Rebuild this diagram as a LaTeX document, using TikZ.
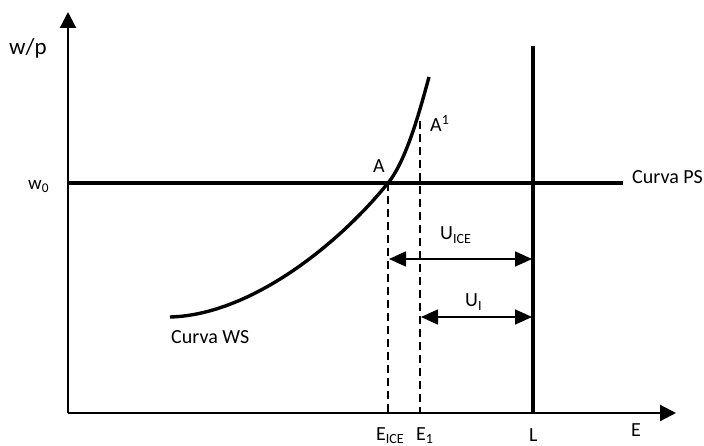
\documentclass[tikz,border=0pt]{standalone}
\usepackage{fontspec}
\setmainfont{Carlito}
\usetikzlibrary{arrows.meta}
\tikzset{
  axisline/.style={line width=2.2pt,-{Triangle[length=16pt,width=16pt]}},
  thickline/.style={line width=3.4pt},
  dashline/.style={line width=1.8pt,dash pattern=on 8pt off 5pt},
  darrow/.style={line width=1.7pt,{Triangle[length=17pt,width=15pt]}-{Triangle[length=17pt,width=15pt]}},
  lbl/.style={inner sep=0pt,anchor=base west,font=\fontsize{20}{24}\selectfont},
}
\begin{document}
\begin{tikzpicture}[x=1pt,y=-1pt]
\useasboundingbox (0,0) rectangle (704,446);
% coordinates
\coordinate (O) at (68,413);
\coordinate (ytop) at (68,12);
\coordinate (xend) at (676,413);
\coordinate (w0l) at (68,183);
\coordinate (w0r) at (623,183);
\coordinate (Ltop) at (533,46);
\coordinate (Lbot) at (533,413);
\coordinate (WS0) at (170,317);
\coordinate (A) at (388,183);
\coordinate (WS1) at (429,77);
\coordinate (Eice) at (388,413);
\coordinate (A1) at (420,121);
\coordinate (E1) at (420,413);
\coordinate (uiceL) at (389,259);
\coordinate (uiceR) at (532,259);
\coordinate (uiL) at (421,317);
\coordinate (uiR) at (532,317);
% axes
\draw[axisline] (O) -- (ytop);
\draw[axisline] (O) -- (xend);
% PS and L lines
\draw[thickline] (w0l) -- (w0r);
\draw[line width=3.8pt] (Ltop) -- (Lbot);
% WS curve
\draw[thickline] (WS0) .. controls (250,315) and (338,245) .. (A)
  .. controls (407,160) and (421,106) .. (WS1);
% dashed
\draw[dashline] (A) -- (Eice);
\draw[dashline] (A1) -- (E1);
% double arrows
\draw[darrow] (uiceL) -- (uiceR);
\draw[darrow] (uiL) -- (uiR);
% labels
\node[lbl,font=\fontsize{23}{27}\selectfont] (lwp) at (9,55) {w/p};
\node[lbl,font=\fontsize{19}{23}\selectfont] (lw0) at (28,190) {w\textsubscript{0}};
\node[lbl] (lA) at (373,173) {A};
\node[lbl] (lA1) at (430,132) {A\textsuperscript{1}};
\node[lbl] (lps) at (632,184) {Curva PS};
\node[lbl] (lws) at (171,343) {Curva WS};
\node[lbl] (luice) at (440,240) {U\textsubscript{ICE}};
\node[lbl] (lui) at (465,307) {U\textsubscript{I}};
\node[lbl] (leice) at (376,440) {E\textsubscript{ICE}};
\node[lbl] (le1) at (416,440) {E\textsubscript{1}};
\node[lbl] (lL) at (529,441) {L};
\node[lbl] (lE) at (631,436) {E};
\end{tikzpicture}
\end{document}
